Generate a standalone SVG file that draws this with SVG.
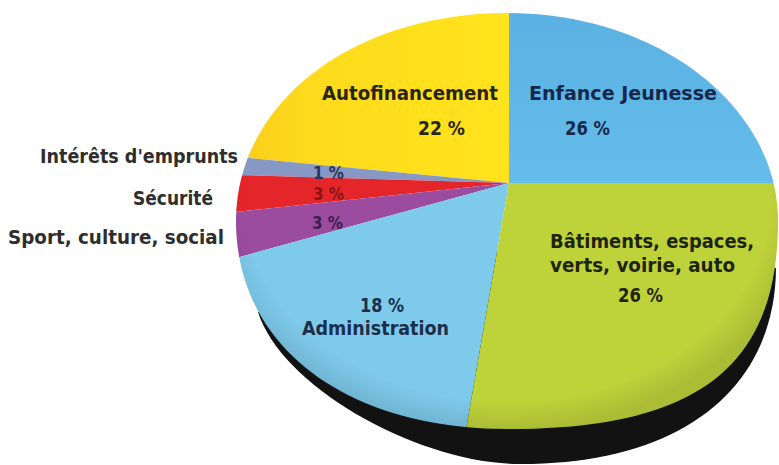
<svg xmlns="http://www.w3.org/2000/svg" width="779" height="465" viewBox="0 0 779 465">
  <style>
    .lbl { font-family: "DejaVu Sans", "Liberation Sans", sans-serif; font-size: 19px; font-weight: bold; }
    .side { fill: #2e2e2e; text-anchor: end; }
    .pct { font-size: 17px; }
  </style>
  <defs>
    <clipPath id="topClip">
      <path d="M 508,13 C 657,13 778,106 778,221 C 778,367 697,429 508,429 C 345,429 236,346 236,221 C 236,103 352,13 508,13 Z"/>
    </clipPath>
    <linearGradient id="gYellow" x1="0" y1="0" x2="1" y2="0">
      <stop offset="0" stop-color="#F7C51E"/>
      <stop offset="0.35" stop-color="#FDDB1C"/>
      <stop offset="1" stop-color="#FFE31C"/>
    </linearGradient>
    <linearGradient id="gBlue" x1="0" y1="0" x2="0" y2="1">
      <stop offset="0" stop-color="#5AB0E2"/>
      <stop offset="1" stop-color="#64BDEA"/>
    </linearGradient>
    <radialGradient id="gShade" cx="0.5" cy="0.45" r="0.55">
      <stop offset="0.88" stop-color="#000" stop-opacity="0"/>
      <stop offset="1" stop-color="#000" stop-opacity="0.1"/>
    </radialGradient>
  </defs>

  <rect width="779" height="465" fill="#ffffff"/>

  <g id="pie-side">
    <path d="M 258,312 C 282,388 420,464 520,464 C 680,464 775,390 776,268 L 500,250 Z" fill="#121212"/>
  </g>

  <g id="pie-top" clip-path="url(#topClip)">
    <g id="slice-autofinancement"><polygon points="509,183 509,0 200,0 200,153.4" fill="url(#gYellow)"/></g>
    <g id="slice-interets"><polygon points="509,183 200,153.4 200,173.9" fill="#8798C4"/></g>
    <g id="slice-securite"><polygon points="509,183 200,173.9 200,215.8" fill="#E4252A"/></g>
    <g id="slice-sport"><polygon points="509,183 200,215.8 200,267.9" fill="#9C4C9F"/></g>
    <g id="slice-administration"><polygon points="509,183 200,267.9 200,470 459,470" fill="#7ECAEB"/></g>
    <g id="slice-batiments"><polygon points="509,183 459,470 800,470 800,183" fill="#BED23A"/></g>
    <g id="slice-enfance"><polygon points="509,183 800,183 800,0 509,0" fill="url(#gBlue)"/></g>
    <path d="M 508,13 C 657,13 778,106 778,221 C 778,367 697,429 508,429 C 345,429 236,346 236,221 C 236,103 352,13 508,13 Z" fill="url(#gShade)"/>
  </g>

  <g id="labels" class="lbl">
    <text x="322" y="100" fill="#2a2414" textLength="176" lengthAdjust="spacingAndGlyphs">Autofinancement</text>
    <text x="418" y="135" fill="#2a2414" textLength="47" lengthAdjust="spacingAndGlyphs">22 %</text>
    <text x="529" y="100" fill="#17284a" textLength="188" lengthAdjust="spacingAndGlyphs">Enfance Jeunesse</text>
    <text x="565" y="135" fill="#17284a" textLength="45" lengthAdjust="spacingAndGlyphs">26 %</text>
    <text x="550" y="248" fill="#1f2410" textLength="204" lengthAdjust="spacingAndGlyphs">Bâtiments, espaces,</text>
    <text x="550" y="272" fill="#1f2410" textLength="185" lengthAdjust="spacingAndGlyphs">verts, voirie, auto</text>
    <text x="618" y="302" fill="#1f2410" textLength="45" lengthAdjust="spacingAndGlyphs">26 %</text>
    <text x="360" y="312" fill="#1b2f4a" textLength="44" lengthAdjust="spacingAndGlyphs">18 %</text>
    <text x="302" y="335" fill="#1b2f4a" textLength="147" lengthAdjust="spacingAndGlyphs">Administration</text>
    <text class="pct" x="313" y="179" fill="#2b3358" textLength="31" lengthAdjust="spacingAndGlyphs">1 %</text>
    <text class="pct" x="313" y="200" fill="#8a1414" textLength="31" lengthAdjust="spacingAndGlyphs">3 %</text>
    <text class="pct" x="312" y="229" fill="#3c1f4f" textLength="31" lengthAdjust="spacingAndGlyphs">3 %</text>
    <text class="side" x="238" y="163" textLength="198" lengthAdjust="spacingAndGlyphs">Intérêts d'emprunts</text>
    <text class="side" x="213" y="205" textLength="80" lengthAdjust="spacingAndGlyphs">Sécurité</text>
    <text class="side" x="224" y="244" textLength="216" lengthAdjust="spacingAndGlyphs">Sport, culture, social</text>
  </g>

  <g id="connectors"/>
</svg>
